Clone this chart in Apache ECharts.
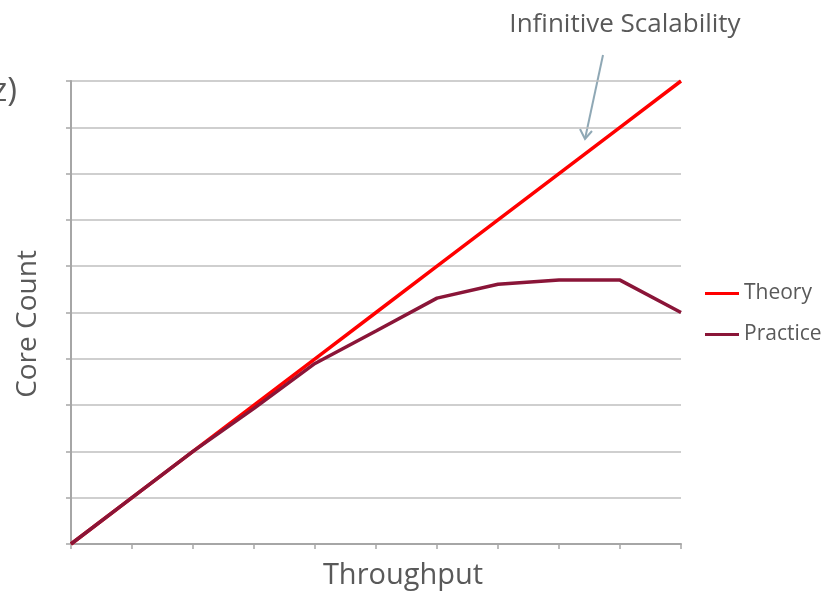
<!DOCTYPE html>
<html>
<head>
<meta charset="utf-8">
<script src="https://cdn.jsdelivr.net/npm/echarts@6/dist/echarts.min.js"></script>
<style>
  html, body { margin: 0; padding: 0; background: #fff; }
  #chart { width: 831px; height: 593px; }
</style>
</head>
<body>
<div id="chart"></div>
<script>
// Throughput steps along the x axis
const throughput = [0, 1, 2, 3, 4, 5, 6, 7, 8, 9, 10];
// Ideal linear scaling
const theoryCores = [0, 1, 2, 3, 4, 5, 6, 7, 8, 9, 10];
// Observed scaling, flattening out and dropping at the end
const practiceCores = [0, 1, 2, 2.93, 3.9, 4.6, 5.31, 5.61, 5.7, 5.7, 5.0];

const seriesNames = ['Theory', 'Practice'];
const seriesColors = ['#ff0000', '#8a1538'];

const textColor = '#595959';
const fontFamily = '"Open Sans", "Noto Sans", sans-serif';

const chart = echarts.init(document.getElementById('chart'), null, { renderer: 'canvas' });

function pairs(ys) {
  return throughput.map((x, i) => [x, ys[i]]);
}

chart.setOption({
  animation: false,
  backgroundColor: '#ffffff',
  grid: { left: 71, right: 150, top: 81, bottom: 49 },
  xAxis: {
    type: 'value', min: 0, max: 10, interval: 1,
    axisLine: { show: true, lineStyle: { color: '#a6a6a6', width: 2 } },
    axisTick: { show: true, length: 5, lineStyle: { color: '#a6a6a6', width: 1.5 } },
    axisLabel: { show: false },
    splitLine: { show: false }
  },
  yAxis: {
    type: 'value', min: 0, max: 10, interval: 1,
    axisLine: { show: true, lineStyle: { color: '#a6a6a6', width: 2 } },
    axisTick: { show: true, length: 5, lineStyle: { color: '#a6a6a6', width: 1.5 } },
    axisLabel: { show: false },
    splitLine: { show: true, lineStyle: { color: '#bfbfbf', width: 1.5 } }
  },
  legend: {
    orient: 'vertical',
    left: 705, top: 283,
    padding: 0,
    itemGap: 20,
    itemWidth: 34, itemHeight: 3,
    icon: 'rect',
    data: seriesNames,
    textStyle: { color: textColor, fontFamily: fontFamily, fontSize: 21 }
  },
  series: [
    {
      name: seriesNames[0], type: 'line', data: pairs(theoryCores),
      showSymbol: false, symbol: 'none', z: 3,
      itemStyle: { color: seriesColors[0] },
      lineStyle: { color: seriesColors[0], width: 3.5 }
    },
    {
      name: seriesNames[1], type: 'line', data: pairs(practiceCores),
      showSymbol: false, symbol: 'none', z: 4,
      itemStyle: { color: seriesColors[1] },
      lineStyle: { color: seriesColors[1], width: 3.5 }
    }
  ],
  graphic: [
    {
      type: 'text', x: 403, y: 576,
      style: { text: 'Throughput', fill: textColor, font: '29px ' + fontFamily,
               textAlign: 'center', textVerticalAlign: 'middle' }
    },
    {
      type: 'text', x: 28, y: 324, rotation: Math.PI / 2,
      style: { text: 'Core Count', fill: textColor, font: '28px ' + fontFamily,
               textAlign: 'center', textVerticalAlign: 'middle' }
    },
    {
      type: 'text', x: 17, y: 92,
      style: { text: 'z)', fill: textColor, font: '33px ' + fontFamily,
               textAlign: 'right', textVerticalAlign: 'middle' }
    },
    {
      type: 'text', x: 625, y: 25,
      style: { text: 'Infinitive Scalability', fill: textColor, font: '26px ' + fontFamily,
               textAlign: 'center', textVerticalAlign: 'middle' }
    },
    {
      type: 'line', shape: { x1: 603, y1: 55, x2: 585, y2: 139 },
      style: { stroke: '#8fa8b5', lineWidth: 2 }
    },
    {
      type: 'polyline', shape: { points: [[580, 129], [585, 139], [592, 131]] },
      style: { stroke: '#8fa8b5', lineWidth: 2, fill: null }
    }
  ]
});
</script>
</body>
</html>
